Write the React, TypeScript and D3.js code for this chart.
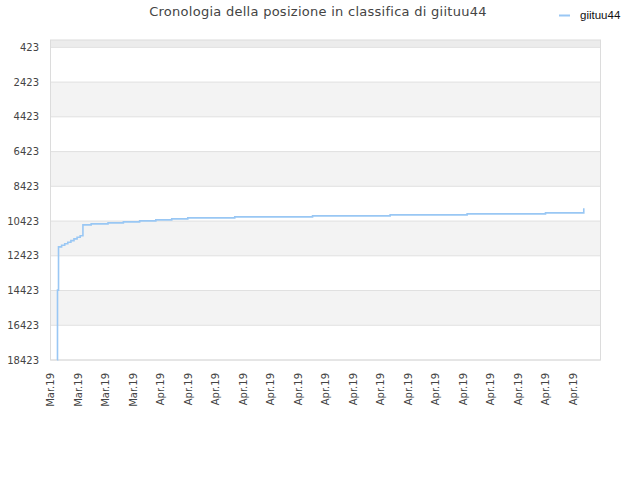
import * as d3 from 'd3';
import * as React from 'react';

// hours after 2019-03-28 00:00 and the rank at that moment
const hours = [6.0, 6.1, 7.0, 9.7, 12.4, 15.1, 17.8, 20.5, 23.2, 25.9, 28.3, 35.5, 50.2, 63.6, 77.8, 91.9, 105.8, 119.8, 160.8, 228.7, 296.4, 363.6, 432.0, 465.4];
const ranks = [18423, 14400, 11908, 11820, 11730, 11640, 11550, 11450, 11360, 11270, 10643, 10586, 10528, 10471, 10413, 10356, 10298, 10241, 10183, 10126, 10068, 10011, 9953, 9683];
const yTicks = [423, 2423, 4423, 6423, 8423, 10423, 12423, 14423, 16423, 18423];
const title = 'Cronologia della posizione in classifica di giituu44';
const seriesName = 'giituu44';

const W = 640;
const H = 480;
const left = 50.5;
const right = 600.5;
const top = 40;
const bottom = 360;
const lineColor = '#99c7f4';
const font = '"DejaVu Sans", Verdana, sans-serif';

const start = new Date(2019, 2, 28);
const end = new Date(2019, 3, 17);

export default function App() {
    const x = d3.scaleTime().domain([start, end]).range([left, right]);
    const y = d3.scaleLinear().domain([0, 18423]).range([top, bottom]);

    const pts = hours.map((h, i) => ({t: new Date(start.getTime() + h * 3600000), r: ranks[i]}));

    const line = d3.line<{t: Date; r: number}>()
        .x((d) => x(d.t))
        .y((d) => y(d.r))
        .curve(d3.curveStepAfter);

    const xTicks = d3.timeDay.range(start, end);
    const fmt = d3.timeFormat('%b.%y');

    // alternating bands between ticks, top strip first
    const edges = [0, ...yTicks];
    const bands = edges.slice(0, -1).map((v, i) => ({y0: v, y1: edges[i + 1], i}));

    return (
        <div style={{position: 'absolute', left: 0, top: 0}}>
            <svg width={W} height={H} style={{display: 'block', background: '#fff'}}>
                <text x={318} y={16} textAnchor='middle' fontFamily={font} fontSize={13} letterSpacing={0.27} fill='#444'>{title}</text>
                <line x1={559} x2={570} y1={15.5} y2={15.5} stroke={lineColor} strokeWidth={2} />
                <text x={580} y={18.5} fontFamily='"Liberation Sans", Arial, sans-serif' fontSize={11.5} fill='#111'>{seriesName}</text>

                <g className='bands'>
                    {bands.map((b) => (
                        <rect key={b.i} x={left} width={right - left} y={y(b.y0)} height={y(b.y1) - y(b.y0)}
                            fill={b.i === 0 ? '#ececec' : b.i % 2 === 0 ? '#f3f3f3' : '#fff'} />
                    ))}
                </g>
                <g className='grid'>
                    {yTicks.map((t) => (
                        <line key={t} x1={left} x2={right} y1={y(t)} y2={y(t)} stroke='#e0e0e0' />
                    ))}
                </g>
                <rect x={left} y={top} width={right - left} height={bottom - top} fill='none' stroke='#dcdcdc' />

                <path d={line(pts) || ''} fill='none' stroke={lineColor} strokeWidth={1.6} />

                <g className='y-axis'>
                    {yTicks.map((t) => (
                        <text key={t} x={39} y={y(t)} dy='0.35em' textAnchor='end' fontFamily={font} fontSize={10} fill='#444'>{t}</text>
                    ))}
                </g>
                <g className='x-axis'>
                    {xTicks.map((d) => (
                        <text key={d.getTime()} transform={`translate(${x(d)},${373}) rotate(-90)`} dy='0.35em' textAnchor='end'
                            fontFamily={font} fontSize={10} fill='#444'>{fmt(d)}</text>
                    ))}
                </g>
            </svg>
        </div>
    );
}
